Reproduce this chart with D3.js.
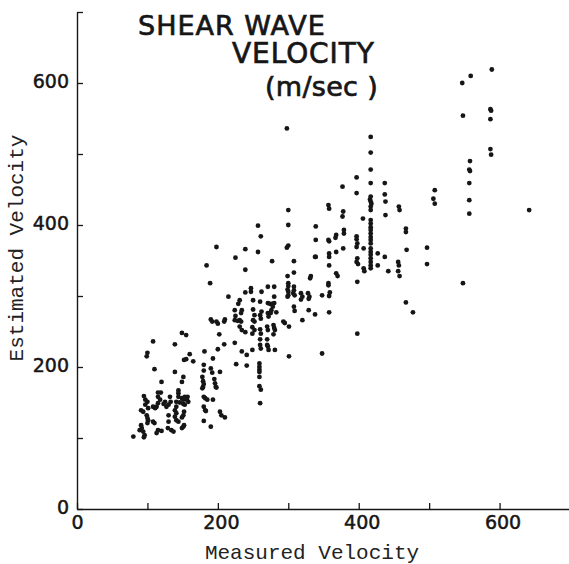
<!DOCTYPE html>
<html>
<head>
<meta charset="utf-8">
<script src="https://cdn.jsdelivr.net/npm/d3@7"></script>
<style>
	body { margin: 0; background: #fff; }
	svg { display: block; }
</style>
</head>
<body>
<svg width="569" height="564"></svg>
<script>
// [measured, estimated] velocity pairs (m/sec), grouped by measured range
var lowBand = [
	[80,102],[91,118],[92,114],[89,111],[94,109],[96,104],[95,101],
	[91,139],[94,137],[99,132],[100,128],[101,125],[100,121],
	[95,159],[97,154],[100,151],[97,147],[101,142],[108,123],[110,121],
	[115,164],[119,164],[115,158],[118,154],[115,149],[113,144],[111,142],[108,144],
	[115,111],[113,107],[120,110],
	[132,158],[133,151],[130,147],[127,144],[125,151],[123,148],
	[130,132],[130,123],[129,114],[134,111],[137,109],
	[149,156],[151,154],[153,158],[156,154],[158,151],[157,158],[153,147],[151,148],[146,150],[141,151],
	[141,144],[139,139],[141,135],[139,130],[141,125],[144,123],
	[151,116],[149,114],[152,118],[152,137],[151,132],[149,129],
	[144,167],[144,163],[144,158],[120,179],[110,197],[139,193],[151,186],[149,179],
	[100,220],[99,215],[108,236],[139,232],[149,248],[155,245],
	[160,218],[152,210],[155,211],[165,208]
];

var midBand = [
	[181,222],[193,212],[200,225],[202,246],[209,232],[224,234],[226,204],
	[180,203],[180,195],[190,198],[192,192],[203,193],
	[178,186],[179,180],[180,176],[179,172],[178,170],
	[195,183],[196,177],[197,172],[198,171],
	[180,158],[182,156],[185,154],[193,154],[180,144],[182,139],[183,138],
	[203,137],[205,132],[210,129],[180,124],[190,116],
	[259,205],[259,200],[259,196],[259,193],[259,186],[259,173],[261,168],[260,149],
	[241,202],[241,217],[249,224],[234,222],[239,249],
	[184,343],[189,318],[198,369],[190,267],[192,264],
	[225,354],[257,362],[239,337],[277,349],[239,366],[257,399],[261,384],
	[215,299],[231,294],[229,289],[250,294],[239,305],[247,311],[247,306],[262,306],
	[271,313],[280,313],[280,299],
	[260,292],[271,290],[274,289],[277,289],[280,290],[278,285],[276,280],[275,276],
	[234,280],[233,276],[224,280],[225,272],[224,266],[228,265],[231,266],[233,264],
	[250,281],[252,273],[250,266],[252,264],[262,278],[260,273],[261,268],
	[271,276],[272,271],[283,277],[210,267],[209,264],[198,264],[200,261],
	[231,257],[234,252],[249,256],[252,252],[249,247],[260,253],[261,247],
	[270,257],[271,252],[279,259],[280,255],[281,252],[279,246],[295,262],
	[260,239],[260,231],[261,226],[270,239],[270,231],[271,229],[272,224],[281,224]
];

var upperBand = [
	[298,536],[300,421],[300,400],[300,371],[298,368],
	[300,318],[300,314],[299,309],[300,306],[300,301],[299,299],
	[308,349],[308,333],[299,328],[332,328],[338,355],
	[308,313],[308,308],[307,304],[309,301],[318,304],[320,299],[318,295],
	[328,304],[330,299],[329,296],[348,301],[308,285],[309,279],
	[329,280],[338,274],[320,266],[301,257],[293,264],[301,215],
	[339,398],[339,379],[339,355],[331,325],
	[357,428],[358,423],[357,379],[358,377],[358,360],[358,355],[358,343],
	[357,318],[357,315],[359,305],[358,300],[358,277],[348,219],
	[368,386],[367,382],[368,362],[368,332],[370,328],
	[377,454],[378,419],[377,412],[379,393],[379,388],[378,367],
	[397,467],[397,445],[397,384],[397,380],[398,374],[397,369],
	[398,353],[397,348],[399,345],[398,320],[398,247]
];

var highBand = [
	[406,409],[407,367],[407,339],[408,335],
	[417,524],[417,502],[417,478],[417,459],
	[417,440],[416,436],[417,433],[418,430],[417,426],[417,421],
	[417,407],[417,402],[417,397],[417,393],[417,388],[417,383],[417,379],[417,374],
	[417,367],[417,362],[417,358],[417,353],[417,348],[417,343],[417,339],
	[427,360],[427,343],[437,459],[437,443],[438,433],[438,414],[437,355],[442,335],
	[456,348],[457,343],[456,335],[458,328],[457,426],[458,421],
	[467,395],[467,390],[468,365],[467,291],[477,277],
	[497,368],[497,345],[508,449],[506,437],[508,430],
	[547,600],[559,610],[589,619],[548,554],[587,563],[588,561],[587,549],[587,507],[588,499],
	[558,490],[557,478],[558,476],[557,459],[557,435],[557,416],[548,318],[642,421]
];

var xTicks = [0,100,200,300,400,500,600,700];
var yTicks = [0,100,200,300,400,500,600,700];
var xTickLabels = [0,200,400,600];
var yTickLabels = [0,200,400,600];
var titleLines = ["SHEAR WAVE", "VELOCITY", "(m/sec )"];
var xTitle = "Measured Velocity";
var yTitle = "Estimated Velocity";

var points = lowBand.concat(midBand, upperBand, highBand);

var svg = d3.select("svg"),
	ink = "#161616",
	numFont = "'DejaVu Sans', sans-serif",
	typeFont = "'Courier New', 'Liberation Mono', monospace";

var x = d3.scaleLinear().domain([0, 700]).range([77, 570]),
	y = d3.scaleLinear().domain([0, 700]).range([509, 12]);

// axes, ticks pointing inward
var xAxis = d3.axisBottom(x)
	.tickValues(xTicks)
	.tickSizeInner(-6)
	.tickSizeOuter(0)
	.tickPadding(7)
	.tickFormat(function(d){ return xTickLabels.indexOf(d) >= 0 ? d : ""; });

var yAxis = d3.axisLeft(y)
	.tickValues(yTicks)
	.tickSizeInner(-6)
	.tickSizeOuter(0)
	.tickPadding(8)
	.tickFormat(function(d){ return yTickLabels.indexOf(d) >= 0 ? d : ""; });

var gx = svg.append("g")
	.attr("transform", "translate(0," + y(0) + ")")
	.call(xAxis);

var gy = svg.append("g")
	.attr("transform", "translate(" + x(0) + ",0)")
	.call(yAxis);

[gx, gy].forEach(function(g){
	g.select(".domain").attr("stroke", ink).attr("stroke-width", 1.4);
	g.selectAll(".tick line").attr("stroke", ink).attr("stroke-width", 1.3);
	g.selectAll(".tick text")
		.attr("fill", ink)
		.attr("stroke", ink)
		.attr("stroke-width", 0.5)
		.style("font-family", numFont)
		.style("font-size", "19px");
});

gx.selectAll(".tick text").attr("dx", function(d){ return d === 0 ? 0 : 3; });
gy.selectAll(".tick text").attr("dy", "0.25em");

// data dots
svg.append("g")
	.selectAll("circle")
	.data(points)
	.enter().append("circle")
	.attr("cx", function(d){ return x(d[0]); })
	.attr("cy", function(d){ return y(d[1]); })
	.attr("r", 2.4)
	.attr("fill", ink);

// title block: x, baseline, size, letter spacing
var titlePos = [[138, 35, 27, 1], [232, 63, 28, 0.9], [265, 96, 27, 0.3]];
titleLines.forEach(function(t, i){
	svg.append("text")
		.attr("x", titlePos[i][0])
		.attr("y", titlePos[i][1])
		.attr("fill", ink)
		.attr("stroke", ink)
		.attr("stroke-width", 0.7)
		.style("font-family", numFont)
		.style("font-size", titlePos[i][2] + "px")
		.style("letter-spacing", titlePos[i][3] + "px")
		.text(t);
});

// axis titles
svg.append("text")
	.attr("x", 312)
	.attr("y", 559)
	.attr("text-anchor", "middle")
	.attr("fill", "#222")
	.style("font-family", typeFont)
	.style("font-size", "21px")
	.text(xTitle);

svg.append("text")
	.attr("transform", "translate(23,248) rotate(-90)")
	.attr("text-anchor", "middle")
	.attr("fill", "#222")
	.style("font-family", typeFont)
	.style("font-size", "21px")
	.text(yTitle);
</script>
</body>
</html>
